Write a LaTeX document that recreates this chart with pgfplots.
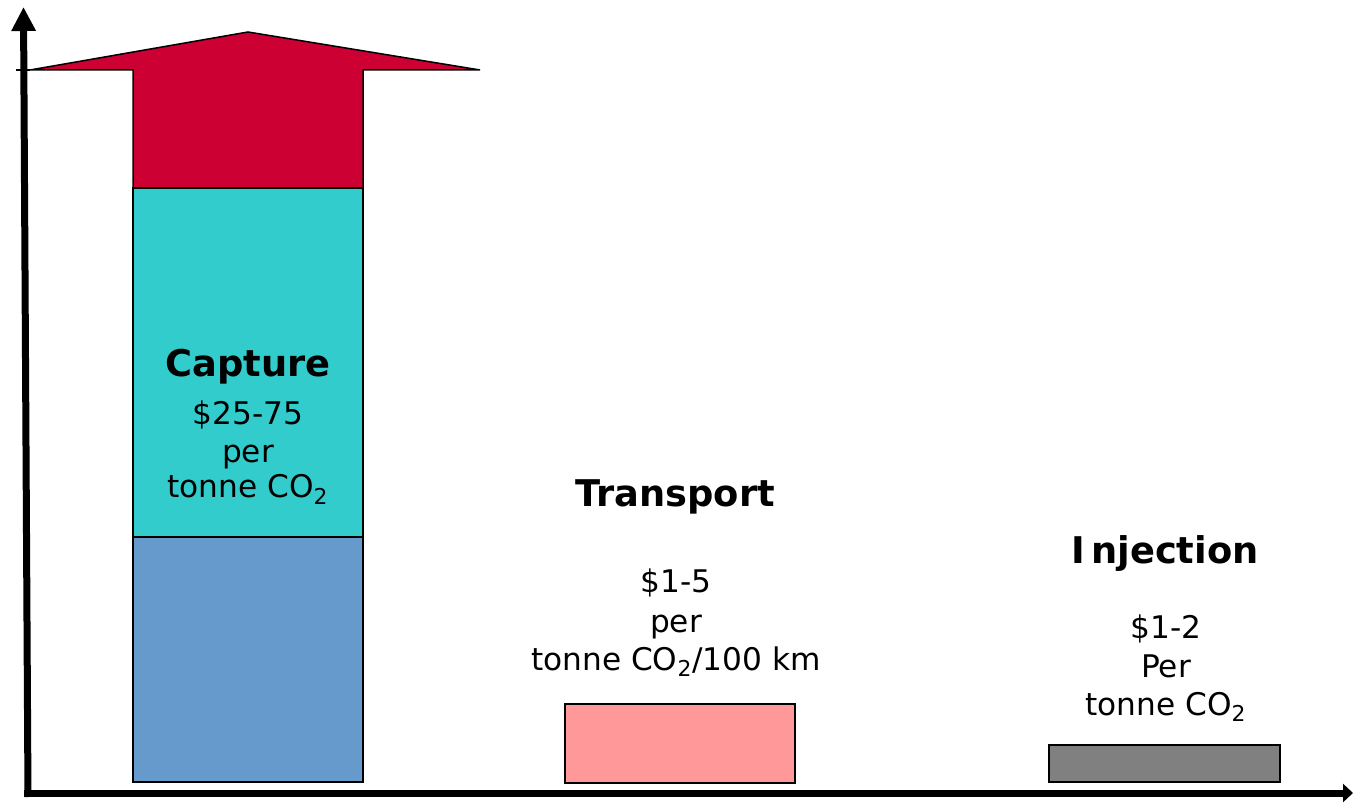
\documentclass[border=0pt]{standalone}
\usepackage{pgfplots}
\pgfplotsset{compat=1.18}
\usepackage{fontspec}
\setmainfont{DejaVu Sans}
\usetikzlibrary{arrows.meta}
\definecolor{capred}{HTML}{CC0033}
\definecolor{capteal}{HTML}{33CCCC}
\definecolor{capblue}{HTML}{6699CC}
\definecolor{trpink}{HTML}{FF9999}
\definecolor{injgray}{HTML}{808080}
\newcommand{\co}{CO\textsubscript{2}}
\newcommand{\lbl}{\fontsize{15.6}{19}\selectfont}
\newcommand{\head}{\fontsize{18.4}{22}\selectfont\bfseries}
\begin{document}
\begin{tikzpicture}
\begin{axis}[
  scale only axis, width=676.5pt, height=401.5pt,
  xmin=0, xmax=1353, ymin=0, ymax=803,
  hide axis, clip=false]
% capture: lower band, upper band, open-ended arrow
\addplot[fill=capblue, draw=black, line width=0.75pt] coordinates {(133,21) (363,21) (363,266) (133,266)} -- cycle;
\addplot[fill=capteal, draw=black, line width=0.75pt] coordinates {(133,266) (363,266) (363,615) (133,615)} -- cycle;
\addplot[fill=capred, draw=black, line width=0.75pt] coordinates {(30,733) (248,771) (480,733) (363,733) (363,615) (133,615) (133,733)} -- cycle;
% transport and injection
\addplot[fill=trpink, draw=black, line width=0.75pt] coordinates {(565,20) (795,20) (795,99) (565,99)} -- cycle;
\addplot[fill=injgray, draw=black, line width=0.75pt] coordinates {(1049,21) (1280,21) (1280,58) (1049,58)} -- cycle;
% axes
\draw[line width=0.75pt] (axis cs:16,733) -- (axis cs:30,733);
\draw[line width=3.5pt, -{Triangle[width=11.5pt,length=12pt]}] (axis cs:28,6) -- (axis cs:23.5,796);
\draw[line width=3.5pt, -{Triangle[width=9pt,length=5pt]}] (axis cs:24,10) -- (axis cs:1353,10);
% labels
\node[anchor=base] at (axis cs:248,426) {\head Capture};
\node[anchor=base] at (axis cs:248,378) {\lbl \$25-75};
\node[anchor=base] at (axis cs:248,340) {\lbl per};
\node[anchor=base] at (axis cs:248,305) {\lbl tonne \co};
\node[anchor=base] at (axis cs:675,296) {\head Transport};
\node[anchor=base] at (axis cs:676,210) {\lbl \$1-5};
\node[anchor=base] at (axis cs:676,170) {\lbl per};
\node[anchor=base] at (axis cs:676,133) {\lbl tonne \co/100 km};
\node[anchor=base] at (axis cs:1165,239) {\head I\,njection};
\node[anchor=base] at (axis cs:1166,165) {\lbl \$1-2};
\node[anchor=base] at (axis cs:1166,126) {\lbl Per};
\node[anchor=base] at (axis cs:1166,88) {\lbl tonne \co};
\end{axis}
\pgfresetboundingbox
\path (0,0) rectangle (676.5pt,401.5pt);
\end{tikzpicture}
\end{document}
